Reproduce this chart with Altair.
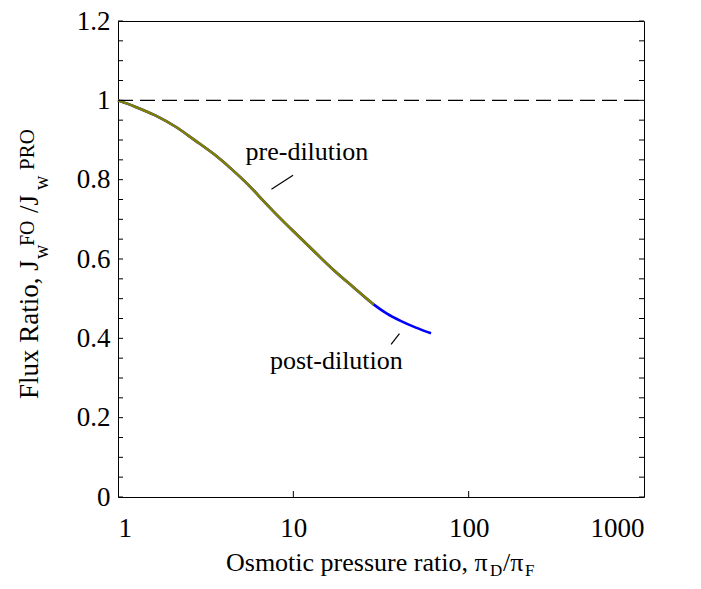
import altair as alt
import pandas as pd

# pre-dilution curve (olive)
pre_x = [1, 1.25, 1.63, 2.12, 2.75, 3.58, 4.46, 5.68, 6.77, 8.4, 10.5, 13.3, 16.9, 22, 28.8]
pre_y = [1.0, 0.984, 0.962, 0.934, 0.899, 0.862, 0.826, 0.782, 0.746, 0.703, 0.661, 0.617, 0.573, 0.529, 0.485]
# post-dilution curve (blue), continues past the pre-dilution end
post_x = [28.8, 34, 40.9, 50, 61]
post_y = [0.485, 0.463, 0.444, 0.427, 0.413]
# reference line
ref_x = [1, 1000]
ref_y = [1, 1]
# tick values
x_ticks = [1, 10, 100, 1000]
x_inner_ticks = [10, 100]
y_ticks = [0, 0.2, 0.4, 0.6, 0.8, 1, 1.2]
y_minor = [0, 0.05, 0.1, 0.15, 0.2, 0.25, 0.3, 0.35, 0.4, 0.45, 0.5, 0.55, 0.6, 0.65,
           0.7, 0.75, 0.8, 0.85, 0.9, 0.95, 1.0, 1.05, 1.1, 1.15, 1.2]

W, H = 526, 476
FONT = "Liberation Serif"

xs = alt.Scale(type="log", domain=[1, 1000])
ys = alt.Scale(domain=[0, 1.2])

blue_df = pd.DataFrame({"x": pre_x + post_x[1:], "y": pre_y + post_y[1:]})
pre_df = pd.DataFrame({"x": pre_x, "y": pre_y})
ref_df = pd.DataFrame({"x": ref_x, "y": ref_y})
yminor_df = pd.DataFrame({"y": y_minor})
xin_df = pd.DataFrame({"x": x_inner_ticks})

xaxis = alt.Axis(values=x_ticks, format="~g", title=None, labelPadding=18,
                 labelFont=FONT, labelFontSize=27, labelColor="black")
yaxis = alt.Axis(values=y_ticks, format="~g", title=None, labelPadding=8,
                 labelFont=FONT, labelFontSize=27, labelColor="black")

ref = alt.Chart(ref_df).mark_line(color="black", strokeWidth=1.3, strokeDash=[15, 7]).encode(
    x=alt.X("x:Q", scale=xs, axis=xaxis),
    y=alt.Y("y:Q", scale=ys, axis=yaxis),
)
blue = alt.Chart(blue_df).mark_line(color="#0000ff", strokeWidth=2.6, interpolate="monotone").encode(
    x=alt.X("x:Q", scale=xs), y=alt.Y("y:Q", scale=ys)
)
olive = alt.Chart(pre_df).mark_line(color="#808000", strokeWidth=2.6, interpolate="monotone").encode(
    x=alt.X("x:Q", scale=xs), y=alt.Y("y:Q", scale=ys)
)

lead_pre = alt.Chart().mark_rule(color="black", strokeWidth=1.2).encode(
    x=alt.datum(7.5, scale=xs), y=alt.datum(0.776, scale=ys),
    x2=alt.datum(9.96), y2=alt.datum(0.811),
)
lead_post = alt.Chart().mark_rule(color="black", strokeWidth=1.2).encode(
    x=alt.datum(36.1, scale=xs), y=alt.datum(0.385, scale=ys),
    x2=alt.datum(40.3), y2=alt.datum(0.412),
)
txt_pre = alt.Chart().mark_text(font=FONT, fontSize=26, color="black", baseline="alphabetic").encode(
    x=alt.datum(11.95, scale=xs), y=alt.datum(0.85, scale=ys), text=alt.value("pre-dilution")
)
txt_post = alt.Chart().mark_text(font=FONT, fontSize=26, color="black", baseline="alphabetic").encode(
    x=alt.datum(17.6, scale=xs), y=alt.datum(0.323, scale=ys), text=alt.value("post-dilution")
)

tick_l = alt.Chart(yminor_df).mark_rule(color="black", strokeWidth=1).encode(
    y=alt.Y("y:Q", scale=ys), x=alt.value(0), x2=alt.value(5)
)
tick_r = alt.Chart(yminor_df).mark_rule(color="black", strokeWidth=1).encode(
    y=alt.Y("y:Q", scale=ys), x=alt.value(W - 5), x2=alt.value(W)
)
tick_b = alt.Chart(xin_df).mark_rule(color="black", strokeWidth=1).encode(
    x=alt.X("x:Q", scale=xs), y=alt.value(H - 6), y2=alt.value(H)
)

def piece(text, px, py, size, angle=0):
    return alt.Chart().mark_text(
        font=FONT, fontSize=size, color="black", align="left", baseline="alphabetic", angle=angle
    ).encode(x=alt.value(px), y=alt.value(py), text=alt.value(text))

# x title pieces
xt = [
    piece("Osmotic pressure ratio, π", 108, 550, 26),
    piece("D", 372, 555, 17),
    piece("/π", 385, 550, 26),
    piece("F", 407, 555, 17),
]
# y title pieces (rotated)
yt = [
    piece("Flux Ratio, J", -80, 378, 27, 270),
    piece("w", -70, 238, 20, 270),
    piece("FO", -84, 225, 20, 270),
    piece("/J", -80, 192, 27, 270),
    piece("w", -70, 169, 20, 270),
    piece("PRO", -84, 149, 21, 270),
]

chart = alt.layer(
    ref, blue, olive, lead_pre, lead_post, txt_pre, txt_post, tick_l, tick_r, tick_b, *xt, *yt
).properties(
    width=W, height=H,
    autosize=alt.AutoSizeParams(type="none"),
    padding={"left": 110, "top": 13, "right": 45, "bottom": 88},
).configure_view(
    stroke="black", strokeWidth=1
).configure_axis(
    domain=False, ticks=False, grid=False,
    labelFont=FONT, labelFontSize=27, labelColor="black",
).configure_text(font=FONT)

chart.save("out.html", embed_options={"renderer": "svg", "actions": False})
